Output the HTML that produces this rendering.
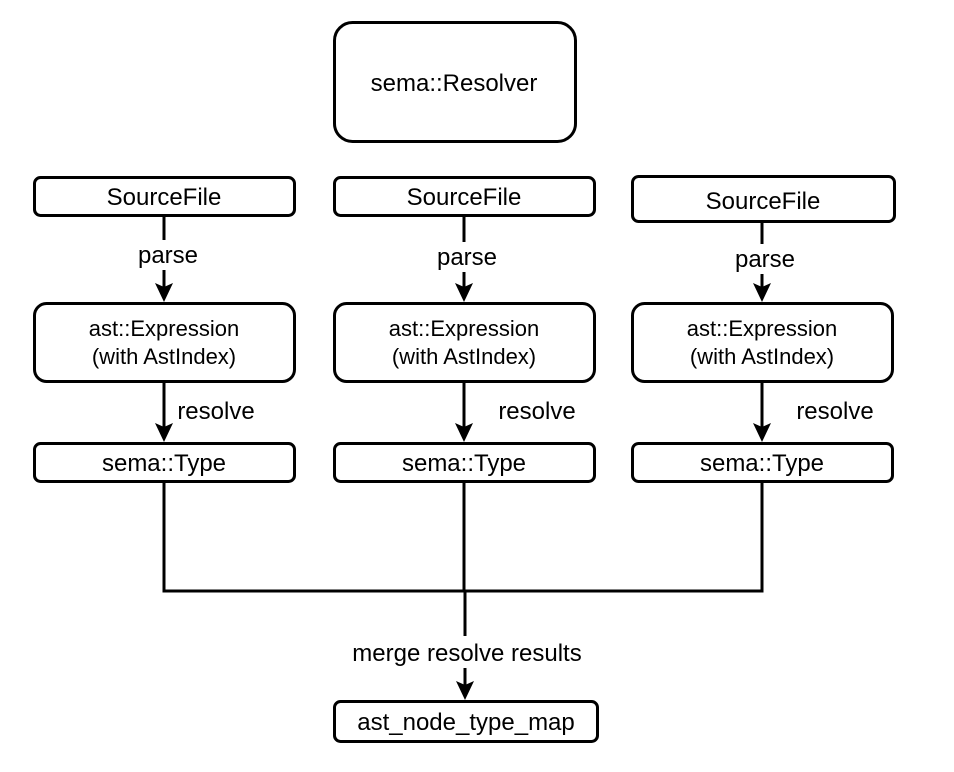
<!DOCTYPE html>
<html><head><meta charset="utf-8"><style>
html,body{margin:0;padding:0;background:#fff;}
svg{display:block;}
text{font-family:"Liberation Sans",Arial,sans-serif;font-size:24px;fill:#000;}
</style></head><body>
<svg width="954" height="772" viewBox="0 0 954 772" xmlns="http://www.w3.org/2000/svg">
<g fill="#fff" stroke="#000" stroke-width="3">
<rect x="334.5" y="22.5" width="241" height="119" rx="18"/>
<rect x="34.5" y="177.5" width="260" height="38" rx="6"/>
<rect x="334.5" y="177.5" width="260" height="38" rx="6"/>
<rect x="632.5" y="176.5" width="262" height="45" rx="6"/>
<rect x="34.5" y="303.5" width="260" height="78" rx="12"/>
<rect x="334.5" y="303.5" width="260" height="78" rx="12"/>
<rect x="632.5" y="303.5" width="260" height="78" rx="12"/>
<rect x="34.5" y="443.5" width="260" height="38" rx="6"/>
<rect x="334.5" y="443.5" width="260" height="38" rx="6"/>
<rect x="632.5" y="443.5" width="260" height="38" rx="6"/>
<rect x="334.5" y="701.5" width="263" height="40" rx="6"/>
</g>
<g stroke="#000" stroke-width="3" fill="none">
<path d="M164 216V240M164 270V290"/>
<path d="M464 216V242M464 272V290"/>
<path d="M762 222V244M762 274V290"/>
<path d="M164 382V430M464 382V430M762 382V430"/>
<path d="M164 482V591H762V482M464 482V591"/>
<path d="M465 591V636M465 668V688"/>
</g>
<g fill="#000">
<path d="M155 283L164 302L173 283L164 287Z"/>
<path d="M455 283L464 302L473 283L464 287Z"/>
<path d="M753 283L762 302L771 283L762 287Z"/>
<path d="M155 423L164 442L173 423L164 427Z"/>
<path d="M455 423L464 442L473 423L464 427Z"/>
<path d="M753 423L762 442L771 423L762 427Z"/>
<path d="M456 681L465 700L474 681L465 685Z"/>
</g>
<g text-anchor="middle">
<text x="454" y="91">sema::Resolver</text>
<text x="164" y="205">SourceFile</text>
<text x="464" y="205">SourceFile</text>
<text x="763" y="209">SourceFile</text>
<text x="168" y="263">parse</text>
<text x="467" y="265">parse</text>
<text x="765" y="267">parse</text>
<text x="164" y="336" style="font-size:22px">ast::Expression</text>
<text x="164" y="364" style="font-size:22px">(with AstIndex)</text>
<text x="464" y="336" style="font-size:22px">ast::Expression</text>
<text x="464" y="364" style="font-size:22px">(with AstIndex)</text>
<text x="762" y="336" style="font-size:22px">ast::Expression</text>
<text x="762" y="364" style="font-size:22px">(with AstIndex)</text>
<text x="216" y="419">resolve</text>
<text x="537" y="419">resolve</text>
<text x="835" y="419">resolve</text>
<text x="164" y="471">sema::Type</text>
<text x="464" y="471">sema::Type</text>
<text x="762" y="471">sema::Type</text>
<text x="467" y="661">merge resolve results</text>
<text x="466" y="730">ast_node_type_map</text>
</g>
</svg>
</body></html>
